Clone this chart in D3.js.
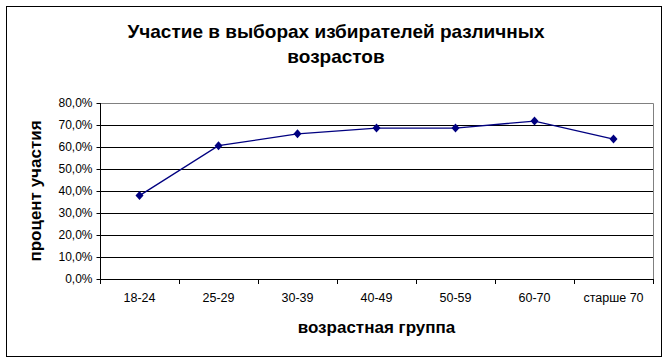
<!DOCTYPE html>
<html>
<head>
<meta charset="utf-8">
<script src="https://cdn.jsdelivr.net/npm/d3@7"></script>
<style>
  body { margin: 0; background: #fff; }
  text { font-family: "Liberation Sans", Arial, sans-serif; }
</style>
</head>
<body>
<div id="chart"></div>
<script>
const ageGroups = ["18-24", "25-29", "30-39", "40-49", "50-59", "60-70", "старше 70"];
const turnout = [0.379, 0.606, 0.660, 0.686, 0.686, 0.718, 0.636];
const yTicks = [0, 0.1, 0.2, 0.3, 0.4, 0.5, 0.6, 0.7, 0.8];
const titleLines = ["Участие в выборах избирателей различных", "возрастов"];

const width = 671;
const height = 363;
const plotLeft = 100, plotRight = 653, plotTop = 103, plotBottom = 279;

const svg = d3.select("#chart")
  .append("svg")
  .attr("width", width)
  .attr("height", height);

// outer frame
svg.append("rect")
  .attr("x", 6.5).attr("y", 6.5)
  .attr("width", 655).attr("height", 350)
  .attr("fill", "#fff")
  .attr("stroke", "#000")
  .attr("stroke-width", 1);

const x = d3.scaleBand()
  .domain(ageGroups)
  .range([plotLeft, plotRight]);

const y = d3.scaleLinear()
  .domain([0, 0.8])
  .range([plotBottom, plotTop]);

const fmt = d => d3.format(".1f")(d * 100).replace(".", ",") + "%";

// gridlines
svg.append("g")
  .selectAll("line")
  .data(yTicks.slice(1, -1))
  .enter()
  .append("line")
  .attr("x1", plotLeft).attr("x2", plotRight)
  .attr("y1", d => Math.round(y(d)) + 0.5)
  .attr("y2", d => Math.round(y(d)) + 0.5)
  .attr("stroke", "#000");

// plot border top/right (gray)
svg.append("path")
  .attr("d", `M${plotLeft},${plotTop + 0.5}H${plotRight + 0.5}V${plotBottom}`)
  .attr("fill", "none")
  .attr("stroke", "#808080");

// y axis
const yAxis = svg.append("g")
  .attr("transform", `translate(${plotLeft + 0.5},0)`)
  .call(d3.axisLeft(y).tickValues(yTicks).tickFormat(fmt).tickSize(4).tickPadding(4));
yAxis.select(".domain").attr("stroke", "#000").attr("d", `M0,${plotTop}V${plotBottom + 0.5}`);
yAxis.selectAll("text").attr("font-size", 12).attr("fill", "#000")
  .style("font-family", "'Liberation Sans', Arial, sans-serif");

// x axis
const xAxis = svg.append("g")
  .attr("transform", `translate(0,${plotBottom + 0.5})`)
  .call(d3.axisBottom(x).tickSize(0).tickPadding(14));
xAxis.select(".domain").attr("stroke", "#000").attr("d", `M${plotLeft},0H${plotRight + 0.5}`);
xAxis.selectAll("text").attr("font-size", 12.5).attr("fill", "#000")
  .style("font-family", "'Liberation Sans', Arial, sans-serif");

// x tick marks at band boundaries
svg.append("g")
  .selectAll("line")
  .data(ageGroups.concat(["end"]))
  .enter()
  .append("line")
  .attr("x1", (d, i) => Math.round(plotLeft + i * x.step()) + 0.5)
  .attr("x2", (d, i) => Math.round(plotLeft + i * x.step()) + 0.5)
  .attr("y1", plotBottom)
  .attr("y2", plotBottom + 5)
  .attr("stroke", "#000");

// line
const points = ageGroups.map((g, i) => [x(g) + x.bandwidth() / 2, y(turnout[i])]);
svg.append("path")
  .datum(points)
  .attr("d", d3.line())
  .attr("fill", "none")
  .attr("stroke", "#000080")
  .attr("stroke-width", 1.3);

svg.append("g")
  .selectAll("path")
  .data(points)
  .enter()
  .append("path")
  .attr("transform", d => `translate(${d[0]},${d[1]})`)
  .attr("d", "M0,-4.5L4,0L0,4.5L-4,0Z")
  .attr("fill", "#000080");

// title
svg.append("g")
  .selectAll("text")
  .data(titleLines)
  .enter()
  .append("text")
  .attr("x", 336)
  .attr("y", (d, i) => 38 + i * 25)
  .attr("text-anchor", "middle")
  .attr("font-size", 19)
  .attr("font-weight", "bold")
  .text(d => d);

svg.append("text")
  .attr("x", (plotLeft + plotRight) / 2)
  .attr("y", 333)
  .attr("text-anchor", "middle")
  .attr("font-size", 17)
  .attr("font-weight", "bold")
  .text("возрастная группа");

svg.append("text")
  .attr("transform", `translate(41,${(plotTop + plotBottom) / 2}) rotate(-90)`)
  .attr("text-anchor", "middle")
  .attr("font-size", 17)
  .attr("font-weight", "bold")
  .text("процент участия");
</script>
</body>
</html>
